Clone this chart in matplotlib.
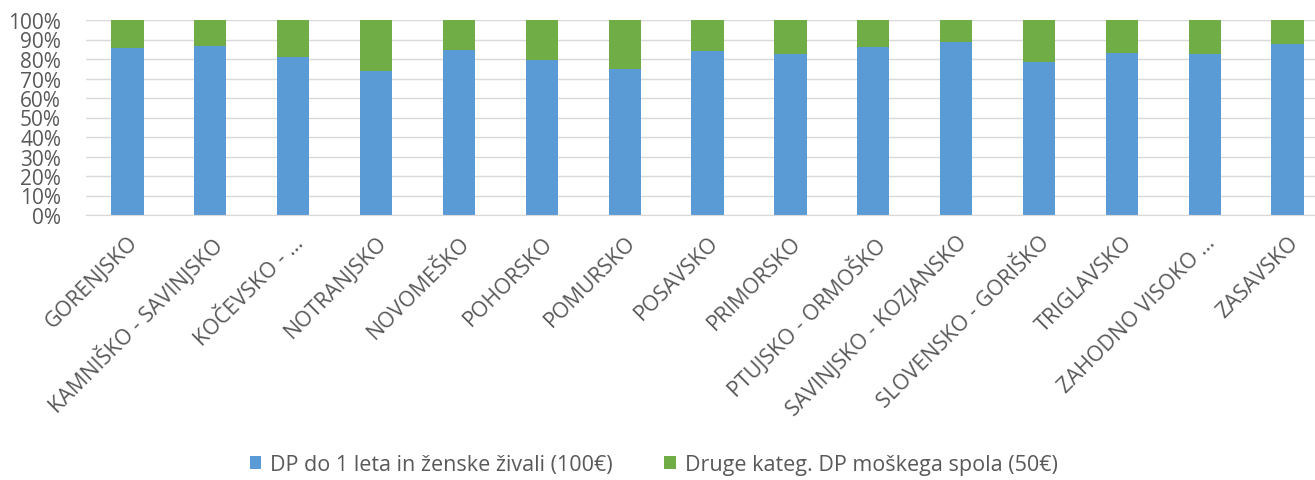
import numpy as np
import matplotlib
matplotlib.use("Agg")
import matplotlib.pyplot as plt
from matplotlib.ticker import PercentFormatter

# regions (x axis)
regions = ["GORENJSKO", "KAMNIŠKO - SAVINJSKO", "KOČEVSKO - …", "NOTRANJSKO",
           "NOVOMEŠKO", "POHORSKO", "POMURSKO", "POSAVSKO", "PRIMORSKO",
           "PTUJSKO - ORMOŠKO", "SAVINJSKO - KOZJANSKO", "SLOVENSKO - GORIŠKO",
           "TRIGLAVSKO", "ZAHODNO VISOKO …", "ZASAVSKO"]

# share of the first category in percent
share_female = [85.6, 86.5, 81.2, 74.0, 84.8, 79.3, 75.0, 83.9, 82.4,
                86.3, 88.5, 78.3, 83.1, 82.4, 87.7]
share_male = [100 - v for v in share_female]

series_names = ["DP do 1 leta in ženske živali (100€)",
                "Druge kateg. DP moškega spola (50€)"]

plt.rcParams['font.family'] = ['Open Sans', 'DejaVu Sans']

fig = plt.figure(figsize=(13.15, 4.81), dpi=100)
ax = fig.add_axes([86 / 1315, 1 - 216 / 481, 1 - 86 / 1315, 195 / 481])

x = np.arange(len(regions))
w = 0.39
ax.bar(x, share_female, w, color='#5B9BD5', label=series_names[0], zorder=2)
ax.bar(x, share_male, w, bottom=share_female, color='#70AD47',
       label=series_names[1], zorder=2)

ax.set_ylim(0, 100)
ax.set_xlim(-0.5, 14.33)
ax.set_yticks(np.arange(0, 101, 10))
ax.yaxis.set_major_formatter(PercentFormatter(decimals=0))
ax.yaxis.grid(True, color='#D9D9D9', linewidth=1, zorder=0)

for s in ['top', 'right', 'left']:
    ax.spines[s].set_visible(False)
ax.spines['bottom'].set_color('#D9D9D9')

ax.set_xticks(x)
ax.set_xticklabels(regions, rotation=45, ha='right', rotation_mode='anchor',
                   fontsize=15.5, color='#595959')
ax.tick_params(axis='x', length=0, pad=12)
ax.tick_params(axis='y', length=0, pad=18, labelsize=15, labelcolor='#595959')

fig.legend(loc='center', bbox_to_anchor=(0.497, 0.032), ncol=2, frameon=False,
           fontsize=15.5, handlelength=0.55, handleheight=0.55, columnspacing=2.4,
           handletextpad=0.4, labelcolor='#595959')

fig.savefig("out.png", dpi=100)
